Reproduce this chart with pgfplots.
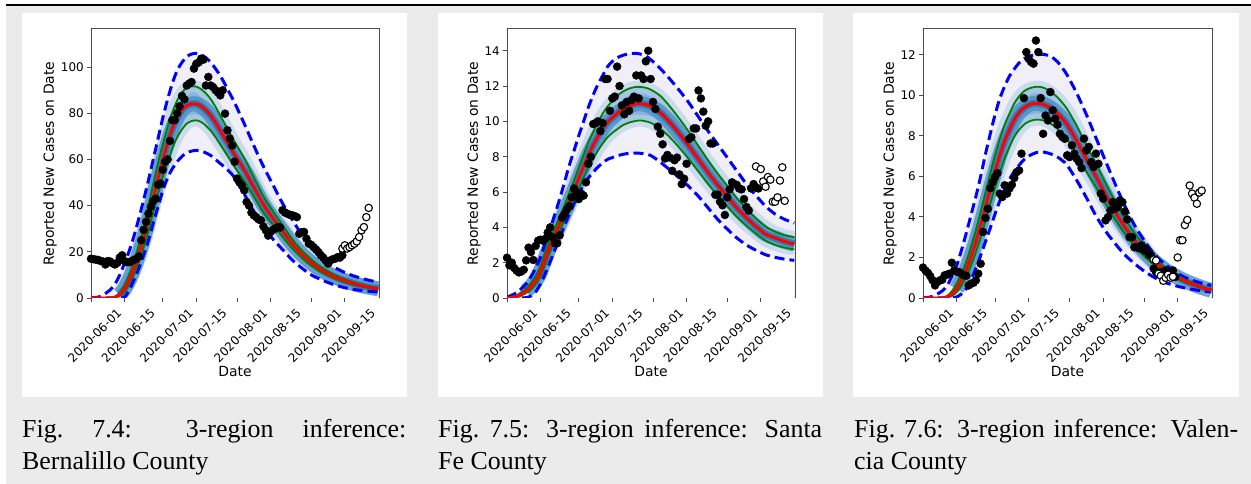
\documentclass[border=0pt]{standalone}
\usepackage{fontspec}
\setmainfont{Liberation Serif}
\newfontfamily\dv{DejaVu Sans}
\usepackage{pgfplots}
\pgfplotsset{compat=1.18}
\usepackage{pgfplotstable}

\definecolor{lav}{HTML}{F0EFF7}
\definecolor{lband}{HTML}{B9CFE8}
\definecolor{band}{HTML}{86B6DA}
\definecolor{core1}{HTML}{4B90C6}
\definecolor{core2}{HTML}{2570AD}
\definecolor{mplgreen}{HTML}{008000}
\definecolor{pagegray}{HTML}{EBEBEB}
\definecolor{spine}{HTML}{4D4D4D}

\pgfplotstableread{
d lo gl m gu hi
0 0 0 0 0 0
4 0 0 0 0 0.7
8 0 0 0 0.1 3.5
10 0 0.1 0.3 0.6 6
12 0 0.9 1.5 2.3 10
14 0.4 2.8 4 5.5 15
16 3.5 6.2 8 10 20.5
18 8 10.5 13 16 27
20 13 15.8 19 23 34.5
22 18.8 22 26 31 42.5
24 25 29 34 40 51
26 32.5 37 43 49.5 60
28 39.5 45 52 58.5 69
30 46.5 52.5 60 66.5 78
32 52 59 67 74 86
34 56 65 73.5 80.5 93
36 59 69.5 78 85.5 98.5
38 61.3 73 81.5 89 102
40 62.8 75.5 83.3 91 104.5
42 63.6 76.6 84 91.6 105.6
44 63.9 76.9 84 91.5 105.9
46 63.6 76.2 83 90.4 105.3
48 62.8 74.6 81.3 88.6 104
50 61.7 72.4 79 86.1 102
52 60 69.6 76 82.8 99.3
54 58.2 66.4 72.5 79 96.2
56 56.5 63.2 69 75.2 92.5
58 54.5 60 65.5 71.4 88.5
60 52 56.7 62 67.6 84.5
64 45 50.8 55.5 60.5 75.5
68 37.5 43.9 48 52.3 66
72 31 37 40.5 44.1 57
76 25.5 31.6 34.5 37.6 49
80 21 26.5 29 31.6 41
84 16.5 21.5 23.5 25.6 34
88 13 17.4 19 20.7 27.5
92 10 14 15.3 16.7 22
96 8 11.3 12.3 13.4 17.5
100 6.3 9.2 10 10.9 14.3
104 5 7.5 8.2 8.9 12
108 4 6.2 6.8 7.4 10.2
112 3.4 5.1 5.6 6.1 8.8
116 2.9 4.3 4.7 5.1 7.7
120 2.6 3.7 4 4.4 6.8
}\tA

\pgfplotstableread{
d lo gl m gu hi
0 0 0 0 0 0.05
4 0 0.03 0.08 0.15 0.3
8 0.02 0.28 0.4 0.55 0.8
10 0.12 0.5 0.65 0.85 1.2
12 0.35 0.8 0.98 1.25 1.7
14 0.8 1.25 1.5 1.8 2.3
16 1.4 1.95 2.25 2.6 3.1
18 2.05 2.65 2.95 3.3 3.9
20 2.75 3.2 3.55 3.95 4.75
22 3.4 3.8 4.2 4.6 5.6
24 4.1 4.4 4.8 5.25 6.55
26 4.75 5.0 5.45 5.95 7.5
28 5.35 5.6 6.1 6.65 8.35
30 5.9 6.2 6.8 7.4 9.2
32 6.4 6.8 7.45 8.1 10.0
34 6.8 7.4 8.1 8.8 10.8
36 7.12 7.9 8.65 9.4 11.5
38 7.42 8.35 9.15 9.95 12.1
40 7.65 8.75 9.6 10.45 12.6
42 7.85 9.1 9.95 10.85 13.1
44 7.95 9.35 10.2 11.15 13.4
46 8.05 9.55 10.45 11.45 13.6
48 8.12 9.75 10.65 11.65 13.72
50 8.17 9.88 10.8 11.8 13.8
52 8.19 9.97 10.9 11.9 13.85
54 8.2 10.03 11.0 11.95 13.85
56 8.19 10.05 11.0 11.95 13.8
58 8.14 10.0 10.95 11.9 13.7
60 8.07 9.92 10.85 11.8 13.5
64 7.7 9.6 10.5 11.45 13.0
68 7.25 9.1 9.95 10.85 12.4
72 6.8 8.5 9.3 10.15 11.75
76 6.3 7.85 8.6 9.4 11.05
80 5.75 7.15 7.85 8.6 10.25
84 5.1 6.45 7.1 7.8 9.45
88 4.45 5.8 6.4 7.05 8.7
92 3.9 5.2 5.75 6.35 7.95
96 3.4 4.6 5.1 5.65 7.2
100 3.0 4.1 4.55 5.05 6.45
104 2.7 3.65 4.05 4.5 5.8
108 2.45 3.25 3.62 4.05 5.2
112 2.3 3.0 3.4 3.75 4.75
116 2.2 2.85 3.2 3.55 4.45
120 2.13 2.75 3.05 3.45 4.25
}\tB

\pgfplotstableread{
d lo gl m gu hi
0 0 0 0 0 0
4 0 0 0 0 0.08
8 0 0 0 0.02 0.35
10 0 0.02 0.05 0.1 0.62
12 0 0.1 0.2 0.33 1.05
14 0.05 0.28 0.46 0.7 1.6
16 0.2 0.62 0.9 1.2 2.35
18 0.45 1.05 1.4 1.8 3.2
20 0.9 1.6 2.05 2.55 4.1
22 1.45 2.25 2.78 3.35 5.0
24 2.1 2.98 3.6 4.25 6.0
26 2.78 3.8 4.5 5.2 7.1
28 3.45 4.65 5.4 6.15 8.1
30 4.15 5.45 6.25 7.05 9.05
32 4.8 6.2 7.05 7.85 9.85
34 5.35 6.9 7.75 8.55 10.45
36 5.85 7.45 8.3 9.1 10.95
38 6.25 7.95 8.8 9.6 11.3
40 6.55 8.3 9.15 9.95 11.6
42 6.82 8.55 9.38 10.2 11.8
44 7.0 8.7 9.52 10.33 11.93
46 7.12 8.78 9.6 10.4 11.98
48 7.2 8.8 9.6 10.42 12.02
50 7.2 8.76 9.55 10.38 12.02
52 7.15 8.67 9.45 10.27 11.97
54 7.07 8.53 9.3 10.1 11.85
56 6.95 8.34 9.1 9.9 11.65
58 6.78 8.1 8.85 9.63 11.35
60 6.55 7.83 8.55 9.32 11.0
64 5.8 7.08 7.75 8.5 10.1
68 4.95 6.25 6.85 7.55 9.05
72 4.05 5.47 6.0 6.62 7.9
76 3.3 4.64 5.1 5.65 6.75
80 2.68 3.86 4.25 4.75 5.62
84 2.13 3.17 3.5 3.93 4.55
88 1.7 2.57 2.85 3.22 3.6
92 1.33 2.06 2.3 2.6 2.85
96 1.03 1.67 1.82 1.97 2.2
100 0.8 1.33 1.45 1.57 1.73
104 0.64 1.06 1.15 1.24 1.38
108 0.52 0.83 0.9 0.97 1.08
112 0.43 0.64 0.7 0.76 0.88
116 0.35 0.48 0.52 0.57 0.73
120 0.3 0.35 0.38 0.42 0.62
}\tC

\pgfplotsset{
  panel/.style={
    scale only axis, width=288bp, height=269bp, anchor=south west,
    xmin=0, xmax=120.3, ymin=0,
    axis line style={draw=spine, line width=1bp},
    every tick/.style={draw=spine, line width=0.9bp},
    tick align=outside, tick pos=left, major tick length=4.5bp,
    xtick={0,14,30,44,61,75,92,106},
    xticklabels={2020-06-01,2020-06-15,2020-07-01,2020-07-15,2020-08-01,2020-08-15,2020-09-01,2020-09-15},
    xticklabel style={xshift=25bp, yshift=-4.9bp, rotate=45, anchor=north east, inner sep=0pt, font=\dv\fontsize{12}{14}\selectfont},
    yticklabel style={anchor=east, inner sep=0pt, xshift=-2.5bp, font=\dv\fontsize{12}{14}\selectfont},
    /pgf/number format/assume math mode=true,
    xlabel={Date}, ylabel={Reported New Cases on Date},
    label style={font=\dv\fontsize{14}{16}\selectfont},
    xlabel style={at={(axis description cs:0.5,-0.275)}, anchor=center, inner sep=0pt},
  }
}

\newcommand\fan[3]{%
  \addplot[draw=none, fill=lav, smooth] table[x=d,y=hi]{#1} \closedcycle;
  \addplot[draw=none, fill=band, smooth] table[x=d,y=gu]{#1} \closedcycle;
  \addplot[draw=none, fill=lav, smooth] table[x=d,y=gl]{#1} \closedcycle;
  \addplot[draw=none, fill=white, smooth] table[x=d,y=lo]{#1} \closedcycle;
  \addplot[lband, opacity=0.65, line width=12bp, smooth, restrict x to domain=#3] table[x=d,y=gu]{#1};
  \addplot[lband, opacity=0.65, line width=12bp, smooth, restrict x to domain=#3] table[x=d,y=gl]{#1};
  \addplot[core1, opacity=0.8, line width=15bp, smooth, restrict x to domain=#2] table[x=d,y=m]{#1};
  \addplot[core2, opacity=0.75, line width=7bp, smooth, restrict x to domain=#2] table[x=d,y=m]{#1};
  \addplot[blue, line width=3bp, dash pattern=on 10bp off 5bp, smooth] table[x=d,y=hi]{#1};
  \addplot[blue, line width=3bp, dash pattern=on 10bp off 5bp, smooth] table[x=d,y=lo]{#1};
  \addplot[mplgreen, line width=1.8bp, smooth] table[x=d,y=gu]{#1};
  \addplot[mplgreen, line width=1.8bp, smooth] table[x=d,y=gl]{#1};
  \addplot[red, line width=3bp, smooth] table[x=d,y=m]{#1};
}

\tikzset{
  filledpts/.style={only marks, mark=*, mark size=4bp, mark options={fill=black, draw=black}},
  openpts/.style={only marks, mark=*, mark size=3.7bp, mark options={fill=white, draw=black, line width=1.1bp}},
}

\begin{document}
\begin{tikzpicture}
\useasboundingbox (0,0) rectangle (1251bp,484bp);
\fill[white] (0,0) rectangle (1251bp,484bp);
\fill[pagegray] (6bp,0) rectangle (1251bp,478bp);
\fill[black] (6bp,478bp) rectangle (1251bp,480.3bp);
\fill[white] (22bp,87bp) rectangle (407bp,471bp);
\fill[white] (438bp,87bp) rectangle (823bp,471bp);
\fill[white] (853bp,87bp) rectangle (1239bp,471bp);

% Panel 1: Bernalillo
\begin{axis}[panel, at={(91bp,186bp)}, ymax=116.45, ytick={0,20,40,60,80,100},
  ylabel style={at={(axis description cs:-0.1424,0.5)}, anchor=center, inner sep=0pt}]
\fan{\tA}{12:120}{12:120}
\addplot[filledpts] coordinates {
(0,17)(1,16.8)(2,16.6)(3,16.5)(4,16)(5,15.8)(6,14.5)(7,16)(8,15.8)(9,15)(10,14.5)(11,15.2)(12,17.5)(13,18.5)(14,16)(15,15.5)(16,15.5)(17,16)(18,16.5)(19,17)(20,18)(21,25)(22,29.5)(23,33)(24,36.5)(25,39.5)(26,42)(27,43)(28,49)(29,49.5)(30,55.5)(31,59)(32,60)(33,68)(34,77)(35,77)(36,80)(37,83)(38,87.5)(39,86)(40,92)(41,92.8)(42,93.5)(43,99.3)(44,101.4)(45,102)(46,103.6)(47,103.2)(48,92)(49,95.7)(50,92)(51,91.3)(52,90)(53,89)(54,87.7)(55,89.9)(56,79.8)(57,72.6)(58,69)(59,66)(60,59)(61,51.7)(62,50)(63,48.8)(64,46.6)(65,41.6)(66,40)(67,37)(68,35.8)(69,35)(70,34)(71,33.6)(72,31)(73,29.3)(74,27)(75,28.6)(76,29.5)(77,30)(78,30.7)(79,30.5)(80,38)(81,37)(82,36.5)(83,36)(84,35.8)(85,35.5)(86,35)(87,27.8)(88,28.5)(89,28.6)(90,25.7)(91,23.5)(92,23)(93,22)(94,21)(95,19.9)(96,18.5)(97,17.5)(98,16.3)(99,14.9)(100,16.3)(101,16.8)(102,17)(103,17.7)(104,17.5)(105,18.5)
};
\addplot[openpts] coordinates {
(105,21.4)(106,22.8)(107,21.4)(108,22)(109,22.8)(110,23.5)(111,24.5)(112,26.4)(113,29.3)(114,30.7)(115,35)(116,39)
};
\end{axis}

% Panel 2: Santa Fe
\begin{axis}[panel, at={(507bp,186bp)}, ymax=15.23, ytick={0,2,4,6,8,10,12,14},
  ylabel style={at={(axis description cs:-0.1146,0.5)}, anchor=center, inner sep=0pt}]
\fan{\tB}{8:120}{10:120}
\addplot[filledpts] coordinates {
(0,2.28)(1,1.85)(2,2.0)(3,1.7)(4,1.55)(5,1.45)(6,1.5)(7,1.6)(8,2.13)(9,2.85)(10,2.6)(11,2.15)(12,2.95)(13,3.25)(14,3.3)(15,3.25)(16,3.35)(17,3.7)(18,4.0)(19,3.45)(20,3.1)(21,3.1)(22,3.55)(23,4.55)(24,4.75)(25,5.0)(26,5.2)(27,5.7)(28,6.2)(29,6.0)(30,5.6)(31,5.9)(32,5.8)(33,6.55)(34,7.6)(35,8.0)(36,9.85)(37,9.9)(38,10.0)(39,9.45)(40,9.9)(41,12.4)(42,12.4)(43,10.6)(44,11.3)(45,11.4)(46,13.1)(47,12.0)(48,10.9)(49,10.4)(50,11.1)(51,10.6)(52,11.2)(53,11.4)(54,12.6)(55,11.3)(56,12.6)(57,12.4)(58,13.4)(59,14.0)(60,12.4)(61,11.1)(62,10.7)(63,9.7)(64,9.3)(65,8.7)(66,7.9)(67,8.1)(68,7.95)(69,7.2)(70,7.8)(71,7.95)(72,7.0)(73,6.45)(74,6.75)(75,7.6)(76,9.0)(77,9.1)(78,9.6)(79,9.6)(80,11.75)(81,11.3)(82,10.55)(83,9.75)(84,10.0)(85,8.75)(86,8.75)(87,5.85)(88,5.85)(89,5.45)(90,5.25)(91,4.7)(92,5.7)(93,6.15)(94,6.55)(95,6.45)(96,6.4)(97,6.2)(98,6.15)(99,5.6)(100,5.15)(101,4.95)(102,6.2)(103,6.45)(104,6.25)(105,6.2)
};
\addplot[openpts] coordinates {
(104,7.45)(106,7.3)(107,6.6)(108,6.3)(109,6.85)(110,6.7)(111,5.45)(112,5.45)(113,5.7)(114,6.65)(115,7.4)(116,5.5)
};
\end{axis}

% Panel 3: Valencia
\begin{axis}[panel, at={(923bp,186bp)}, width=289bp, ymax=13.27, ytick={0,2,4,6,8,10,12},
  ylabel style={at={(axis description cs:-0.1142,0.5)}, anchor=center, inner sep=0pt}]
\fan{\tC}{14:120}{14:100}
\addplot[filledpts] coordinates {
(0,1.5)(1,1.36)(2,1.25)(3,1.08)(4,0.87)(5,0.62)(6,0.79)(7,0.87)(8,0.9)(9,1.12)(10,1.15)(11,1.2)(12,1.74)(13,1.36)(14,1.3)(15,1.28)(16,1.2)(17,1.12)(18,1.1)(19,0.62)(20,0.7)(21,0.75)(22,0.87)(23,1.2)(24,1.69)(25,3.26)(26,3.95)(27,4.4)(28,5.42)(29,5.72)(30,5.97)(31,6.16)(32,5.15)(33,4.98)(34,5.56)(35,5.15)(36,5.4)(37,5.59)(38,5.92)(39,6.21)(40,6.3)(41,7.12)(42,9.86)(43,12.13)(44,11.8)(45,11.64)(46,11.56)(47,12.7)(48,12.13)(49,9.86)(50,8.1)(51,9.0)(52,8.76)(53,10.16)(54,9.26)(55,8.84)(56,8.55)(57,8.1)(58,7.94)(59,7.86)(60,7.04)(61,6.95)(62,7.53)(63,7.12)(64,6.87)(65,6.7)(66,6.41)(67,7.86)(68,7.28)(69,7.45)(70,6.7)(71,6.46)(72,7.12)(73,6.62)(74,5.15)(75,4.9)(76,3.83)(77,3.99)(78,4.32)(79,4.73)(80,4.41)(81,4.49)(82,4.82)(83,4.73)(84,4.27)(85,3.88)(86,3.0)(87,3.0)(88,2.5)(89,2.5)(90,2.45)(91,2.6)(92,2.35)(93,2.4)(94,2.14)(95,2.1)(96,1.45)(97,1.28)(98,1.2)(99,1.28)(100,1.2)(101,1.36)(102,1.04)(103,1.3)(104,1.36)(105,1.04)
};
\addplot[openpts] coordinates {
(96,1.9)(97,1.85)(98,1.2)(99,1.1)(100,0.85)(101,1.0)(102,1.15)(103,1.0)(104,1.05)(106,2.0)(107,2.85)(108,2.85)(109,3.6)(110,3.85)(111,5.55)(112,5.15)(113,4.95)(114,4.65)(115,5.2)(116,5.3)
};
\end{axis}

% Captions
\node[anchor=base west, text width=384bp, align=justify, inner sep=0pt,
  font=\fontsize{26}{32.7}\selectfont] at (22bp,46.7bp)
  {Fig.~7.4: 3-region inference:\linebreak Bernalillo County};
\node[anchor=base west, text width=384bp, align=justify, inner sep=0pt,
  font=\fontsize{26}{32.7}\selectfont] at (438bp,46.7bp)
  {Fig.~7.5: 3-region inference: Santa\linebreak Fe County};
\node[anchor=base west, text width=384bp, align=justify, inner sep=0pt,
  font=\fontsize{26}{32.7}\selectfont] at (854bp,46.7bp)
  {Fig.~7.6: 3-region inference: Valen-\linebreak cia County};
\end{tikzpicture}
\end{document}
